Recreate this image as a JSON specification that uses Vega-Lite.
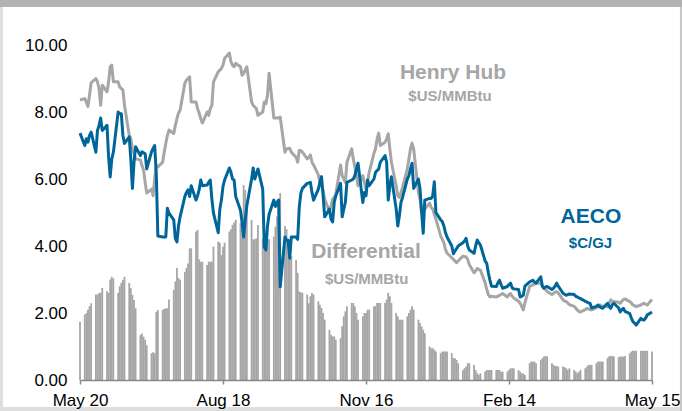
{
"$schema":"https://vega.github.io/schema/vega-lite/v6.json",
"width":572,"height":335,
"autosize":{"type":"none"},
"padding":{"left":80,"top":45,"right":30,"bottom":31},
"background":"#ffffff",
"config":{"view":{"fill":null,"stroke":null},"font":"Liberation Sans","text":{"font":"Liberation Sans"},"scale":{"continuousPadding":0},
 "axis":{"grid":false,"title":null,"labelFontSize":17,"labelColor":"#000000","labelFont":"Liberation Sans"},
 "axisX":{"domain":true,"domainColor":"#888888","domainWidth":1.5,"ticks":true,"tickSize":4,"tickWidth":1.5,"tickColor":"#888888","labelPadding":8,"labelFlush":false,"labelOverlap":false},
 "axisY":{"domain":false,"ticks":false,"labelPadding":13}},
"data":{"values":[
{"date":"2022-05-20","hh":8.36,"aeco":7.37,"diff":1.74},
{"date":"2022-05-23","hh":8.4,"aeco":7.0,"diff":1.95},
{"date":"2022-05-24","hh":8.3,"aeco":7.2,"diff":2.0},
{"date":"2022-05-25","hh":8.16,"aeco":7.1,"diff":2.1},
{"date":"2022-05-26","hh":8.5,"aeco":7.3,"diff":2.2},
{"date":"2022-05-27","hh":8.87,"aeco":7.4,"diff":2.29},
{"date":"2022-05-30","hh":9.0,"aeco":6.8,"diff":2.55},
{"date":"2022-05-31","hh":8.9,"aeco":7.45,"diff":2.55},
{"date":"2022-06-01","hh":8.7,"aeco":7.6,"diff":2.6},
{"date":"2022-06-02","hh":8.2,"aeco":7.82,"diff":2.6},
{"date":"2022-06-03","hh":8.8,"aeco":7.45,"diff":2.75},
{"date":"2022-06-06","hh":8.6,"aeco":7.6,"diff":2.65},
{"date":"2022-06-07","hh":8.9,"aeco":6.66,"diff":2.6},
{"date":"2022-06-08","hh":9.35,"aeco":6.06,"diff":3.0},
{"date":"2022-06-09","hh":9.4,"aeco":6.6,"diff":3.08},
{"date":"2022-06-10","hh":8.9,"aeco":6.8,"diff":3.03},
{"date":"2022-06-13","hh":8.9,"aeco":8.0,"diff":2.6},
{"date":"2022-06-14","hh":8.75,"aeco":7.95,"diff":2.8},
{"date":"2022-06-15","hh":8.7,"aeco":7.95,"diff":2.9},
{"date":"2022-06-16","hh":8.66,"aeco":7.3,"diff":2.99},
{"date":"2022-06-17","hh":8.2,"aeco":7.06,"diff":3.08},
{"date":"2022-06-20","hh":7.3,"aeco":7.26,"diff":2.9},
{"date":"2022-06-21","hh":7.2,"aeco":6.57,"diff":2.74},
{"date":"2022-06-22","hh":6.9,"aeco":5.72,"diff":2.54},
{"date":"2022-06-23","hh":6.75,"aeco":6.5,"diff":2.39},
{"date":"2022-06-24","hh":6.6,"aeco":6.96,"diff":2.14},
{"date":"2022-06-27","hh":6.57,"aeco":6.7,"diff":1.34},
{"date":"2022-06-28","hh":6.4,"aeco":6.81,"diff":1.39},
{"date":"2022-06-29","hh":6.27,"aeco":6.78,"diff":1.29},
{"date":"2022-06-30","hh":5.9,"aeco":6.76,"diff":1.2},
{"date":"2022-07-01","hh":5.58,"aeco":6.3,"diff":1.04},
{"date":"2022-07-04","hh":5.7,"aeco":6.81,"diff":0.8},
{"date":"2022-07-05","hh":5.5,"aeco":6.91,"diff":0.83},
{"date":"2022-07-06","hh":6.0,"aeco":7.0,"diff":0.8},
{"date":"2022-07-07","hh":6.4,"aeco":6.17,"diff":2.03},
{"date":"2022-07-08","hh":6.36,"aeco":4.3,"diff":2.09},
{"date":"2022-07-11","hh":6.5,"aeco":4.27,"diff":2.09},
{"date":"2022-07-12","hh":6.8,"aeco":4.27,"diff":2.12},
{"date":"2022-07-13","hh":7.07,"aeco":4.27,"diff":2.14},
{"date":"2022-07-14","hh":7.3,"aeco":5.13,"diff":2.14},
{"date":"2022-07-15","hh":7.46,"aeco":4.98,"diff":2.4},
{"date":"2022-07-18","hh":7.36,"aeco":4.78,"diff":2.69},
{"date":"2022-07-19","hh":7.6,"aeco":4.23,"diff":2.94},
{"date":"2022-07-20","hh":7.8,"aeco":4.12,"diff":3.34},
{"date":"2022-07-21","hh":7.97,"aeco":4.6,"diff":3.04},
{"date":"2022-07-22","hh":8.05,"aeco":4.87,"diff":2.99},
{"date":"2022-07-25","hh":8.86,"aeco":5.48,"diff":3.23},
{"date":"2022-07-26","hh":8.95,"aeco":5.6,"diff":3.35},
{"date":"2022-07-27","hh":9.0,"aeco":5.68,"diff":3.48},
{"date":"2022-07-28","hh":9.05,"aeco":5.48,"diff":3.93},
{"date":"2022-07-29","hh":8.3,"aeco":5.8,"diff":3.93},
{"date":"2022-08-01","hh":8.3,"aeco":5.37,"diff":4.43},
{"date":"2022-08-02","hh":8.1,"aeco":5.5,"diff":4.48},
{"date":"2022-08-03","hh":7.97,"aeco":5.68,"diff":3.6},
{"date":"2022-08-04","hh":7.8,"aeco":5.97,"diff":3.53},
{"date":"2022-08-05","hh":7.67,"aeco":5.8,"diff":3.53},
{"date":"2022-08-08","hh":8.0,"aeco":5.82,"diff":3.43},
{"date":"2022-08-09","hh":7.9,"aeco":5.9,"diff":3.53},
{"date":"2022-08-10","hh":8.1,"aeco":5.97,"diff":3.53},
{"date":"2022-08-11","hh":8.2,"aeco":5.4,"diff":3.53},
{"date":"2022-08-12","hh":8.9,"aeco":4.98,"diff":3.98},
{"date":"2022-08-15","hh":9.2,"aeco":4.4,"diff":4.13},
{"date":"2022-08-16","hh":9.25,"aeco":5.1,"diff":4.1},
{"date":"2022-08-17","hh":9.3,"aeco":5.37,"diff":3.73},
{"date":"2022-08-18","hh":9.4,"aeco":5.78,"diff":3.98},
{"date":"2022-08-19","hh":9.6,"aeco":5.97,"diff":4.1},
{"date":"2022-08-22","hh":9.76,"aeco":6.33,"diff":4.43},
{"date":"2022-08-23","hh":9.5,"aeco":6.2,"diff":4.5},
{"date":"2022-08-24","hh":9.4,"aeco":6.0,"diff":4.63},
{"date":"2022-08-25","hh":9.35,"aeco":5.97,"diff":4.7},
{"date":"2022-08-26","hh":9.45,"aeco":5.48,"diff":4.78},
{"date":"2022-08-29","hh":9.35,"aeco":5.07,"diff":4.68},
{"date":"2022-08-30","hh":9.1,"aeco":4.7,"diff":4.93},
{"date":"2022-08-31","hh":9.15,"aeco":4.27,"diff":5.82},
{"date":"2022-09-01","hh":9.25,"aeco":4.78,"diff":5.67},
{"date":"2022-09-02","hh":9.35,"aeco":5.2,"diff":5.37},
{"date":"2022-09-05","hh":8.3,"aeco":6.0,"diff":4.78},
{"date":"2022-09-06","hh":8.2,"aeco":6.33,"diff":4.2},
{"date":"2022-09-07","hh":8.15,"aeco":6.0,"diff":4.2},
{"date":"2022-09-08","hh":8.1,"aeco":6.15,"diff":4.23},
{"date":"2022-09-09","hh":7.9,"aeco":6.3,"diff":4.63},
{"date":"2022-09-12","hh":8.0,"aeco":5.7,"diff":4.23},
{"date":"2022-09-13","hh":8.3,"aeco":3.97,"diff":4.25},
{"date":"2022-09-14","hh":8.25,"aeco":3.88,"diff":4.28},
{"date":"2022-09-15","hh":8.5,"aeco":4.6,"diff":4.18},
{"date":"2022-09-16","hh":9.16,"aeco":4.95,"diff":4.2},
{"date":"2022-09-19","hh":7.82,"aeco":5.37,"diff":4.28},
{"date":"2022-09-20","hh":7.82,"aeco":5.18,"diff":4.58},
{"date":"2022-09-21","hh":7.82,"aeco":5.3,"diff":4.88},
{"date":"2022-09-22","hh":7.82,"aeco":5.37,"diff":4.9},
{"date":"2022-09-23","hh":7.85,"aeco":2.78,"diff":5.58},
{"date":"2022-09-26","hh":6.8,"aeco":4.27,"diff":4.6},
{"date":"2022-09-27","hh":6.9,"aeco":4.17,"diff":4.5},
{"date":"2022-09-28","hh":6.9,"aeco":4.17,"diff":4.2},
{"date":"2022-09-29","hh":6.92,"aeco":3.64,"diff":3.98},
{"date":"2022-09-30","hh":6.8,"aeco":4.27,"diff":3.7},
{"date":"2022-10-03","hh":6.65,"aeco":4.27,"diff":3.58},
{"date":"2022-10-04","hh":6.5,"aeco":4.2,"diff":3.2},
{"date":"2022-10-05","hh":6.85,"aeco":5.16,"diff":2.64},
{"date":"2022-10-06","hh":6.85,"aeco":5.58,"diff":2.62},
{"date":"2022-10-07","hh":6.8,"aeco":5.72,"diff":2.6},
{"date":"2022-10-10","hh":6.6,"aeco":5.87,"diff":2.55},
{"date":"2022-10-11","hh":6.65,"aeco":5.88,"diff":2.29},
{"date":"2022-10-12","hh":6.72,"aeco":5.9,"diff":2.5},
{"date":"2022-10-13","hh":6.5,"aeco":5.6,"diff":2.6},
{"date":"2022-10-14","hh":6.42,"aeco":5.37,"diff":2.55},
{"date":"2022-10-17","hh":6.12,"aeco":5.7,"diff":2.35},
{"date":"2022-10-18","hh":5.9,"aeco":5.9,"diff":2.25},
{"date":"2022-10-19","hh":5.8,"aeco":6.07,"diff":2.15},
{"date":"2022-10-20","hh":5.67,"aeco":5.5,"diff":2.0},
{"date":"2022-10-21","hh":5.4,"aeco":4.87,"diff":1.8},
{"date":"2022-10-24","hh":5.02,"aeco":5.1,"diff":1.5},
{"date":"2022-10-25","hh":5.2,"aeco":4.8,"diff":1.35},
{"date":"2022-10-26","hh":5.4,"aeco":4.72,"diff":1.3},
{"date":"2022-10-27","hh":5.45,"aeco":5.3,"diff":1.3},
{"date":"2022-10-28","hh":5.55,"aeco":5.5,"diff":1.2},
{"date":"2022-10-31","hh":6.42,"aeco":5.87,"diff":1.25},
{"date":"2022-11-01","hh":6.1,"aeco":4.87,"diff":1.6},
{"date":"2022-11-02","hh":6.0,"aeco":5.1,"diff":1.9},
{"date":"2022-11-03","hh":5.9,"aeco":5.3,"diff":2.05},
{"date":"2022-11-04","hh":6.5,"aeco":5.9,"diff":2.2},
{"date":"2022-11-07","hh":6.9,"aeco":5.97,"diff":2.3},
{"date":"2022-11-08","hh":6.6,"aeco":6.0,"diff":2.3},
{"date":"2022-11-09","hh":6.37,"aeco":6.1,"diff":2.2},
{"date":"2022-11-10","hh":6.1,"aeco":6.3,"diff":2.0},
{"date":"2022-11-11","hh":5.8,"aeco":6.47,"diff":1.8},
{"date":"2022-11-14","hh":6.1,"aeco":5.3,"diff":1.9},
{"date":"2022-11-15","hh":5.9,"aeco":5.6,"diff":2.0},
{"date":"2022-11-16","hh":5.7,"aeco":5.5,"diff":2.0},
{"date":"2022-11-17","hh":5.9,"aeco":5.97,"diff":2.1},
{"date":"2022-11-18","hh":6.2,"aeco":5.8,"diff":2.1},
{"date":"2022-11-21","hh":6.77,"aeco":6.0,"diff":2.2},
{"date":"2022-11-22","hh":6.9,"aeco":6.2,"diff":2.2},
{"date":"2022-11-23","hh":7.2,"aeco":6.25,"diff":2.3},
{"date":"2022-11-24","hh":7.37,"aeco":6.3,"diff":2.3},
{"date":"2022-11-25","hh":7.0,"aeco":6.5,"diff":2.3},
{"date":"2022-11-28","hh":7.1,"aeco":6.7,"diff":2.3},
{"date":"2022-11-29","hh":7.2,"aeco":6.5,"diff":2.4},
{"date":"2022-11-30","hh":7.35,"aeco":5.37,"diff":2.6},
{"date":"2022-12-01","hh":6.9,"aeco":5.8,"diff":2.5},
{"date":"2022-12-02","hh":6.5,"aeco":6.07,"diff":2.3},
{"date":"2022-12-05","hh":5.8,"aeco":5.1,"diff":2.0},
{"date":"2022-12-06","hh":5.5,"aeco":4.6,"diff":1.9},
{"date":"2022-12-07","hh":5.45,"aeco":4.9,"diff":1.8},
{"date":"2022-12-08","hh":5.6,"aeco":5.3,"diff":1.8},
{"date":"2022-12-09","hh":5.75,"aeco":5.45,"diff":1.8},
{"date":"2022-12-12","hh":6.3,"aeco":6.0,"diff":1.9},
{"date":"2022-12-13","hh":6.6,"aeco":6.1,"diff":2.0},
{"date":"2022-12-14","hh":6.9,"aeco":6.3,"diff":2.1},
{"date":"2022-12-15","hh":7.07,"aeco":6.47,"diff":2.2},
{"date":"2022-12-16","hh":6.9,"aeco":5.72,"diff":2.1},
{"date":"2022-12-19","hh":5.6,"aeco":6.0,"diff":1.8},
{"date":"2022-12-20","hh":5.4,"aeco":5.72,"diff":1.7},
{"date":"2022-12-21","hh":5.0,"aeco":5.0,"diff":1.6},
{"date":"2022-12-22","hh":5.0,"aeco":4.38,"diff":1.5},
{"date":"2022-12-23","hh":5.1,"aeco":5.37,"diff":1.4},
{"date":"2022-12-26","hh":5.28,"aeco":5.42,"diff":1.0},
{"date":"2022-12-27","hh":5.15,"aeco":5.42,"diff":0.95},
{"date":"2022-12-28","hh":5.1,"aeco":5.5,"diff":0.95},
{"date":"2022-12-29","hh":4.95,"aeco":5.92,"diff":0.9},
{"date":"2022-12-30","hh":4.8,"aeco":5.0,"diff":0.85},
{"date":"2023-01-02","hh":4.3,"aeco":4.78,"diff":0.8},
{"date":"2023-01-03","hh":4.2,"aeco":4.73,"diff":0.85},
{"date":"2023-01-04","hh":4.1,"aeco":4.6,"diff":0.85},
{"date":"2023-01-05","hh":3.9,"aeco":4.4,"diff":0.85},
{"date":"2023-01-06","hh":3.79,"aeco":4.27,"diff":0.85},
{"date":"2023-01-09","hh":3.65,"aeco":4.0,"diff":0.8},
{"date":"2023-01-10","hh":3.6,"aeco":3.77,"diff":0.65},
{"date":"2023-01-11","hh":3.55,"aeco":3.85,"diff":0.65},
{"date":"2023-01-12","hh":3.5,"aeco":3.92,"diff":0.6},
{"date":"2023-01-13","hh":3.55,"aeco":4.0,"diff":0.5},
{"date":"2023-01-16","hh":3.7,"aeco":4.1,"diff":0.3},
{"date":"2023-01-17","hh":3.68,"aeco":4.15,"diff":0.35},
{"date":"2023-01-18","hh":3.68,"aeco":4.23,"diff":0.4},
{"date":"2023-01-19","hh":3.6,"aeco":4.0,"diff":0.5},
{"date":"2023-01-20","hh":3.45,"aeco":3.88,"diff":0.5},
{"date":"2023-01-23","hh":3.2,"aeco":3.78,"diff":0.45},
{"date":"2023-01-24","hh":3.25,"aeco":4.0,"diff":0.3},
{"date":"2023-01-25","hh":3.33,"aeco":4.18,"diff":0.2},
{"date":"2023-01-26","hh":3.3,"aeco":4.1,"diff":0.15},
{"date":"2023-01-27","hh":3.28,"aeco":4.03,"diff":0.2},
{"date":"2023-01-30","hh":2.9,"aeco":3.55,"diff":0.25},
{"date":"2023-01-31","hh":2.7,"aeco":3.48,"diff":0.3},
{"date":"2023-02-01","hh":2.55,"aeco":3.2,"diff":0.3},
{"date":"2023-02-02","hh":2.48,"aeco":2.98,"diff":0.3},
{"date":"2023-02-03","hh":2.5,"aeco":2.8,"diff":0.3},
{"date":"2023-02-06","hh":2.48,"aeco":2.79,"diff":0.3},
{"date":"2023-02-07","hh":2.5,"aeco":2.9,"diff":0.3},
{"date":"2023-02-08","hh":2.53,"aeco":2.98,"diff":0.3},
{"date":"2023-02-09","hh":2.55,"aeco":2.85,"diff":0.25},
{"date":"2023-02-10","hh":2.58,"aeco":2.74,"diff":0.25},
{"date":"2023-02-13","hh":2.48,"aeco":2.79,"diff":0.25},
{"date":"2023-02-14","hh":2.55,"aeco":2.85,"diff":0.3},
{"date":"2023-02-15","hh":2.58,"aeco":2.89,"diff":0.35},
{"date":"2023-02-16","hh":2.5,"aeco":2.75,"diff":0.35},
{"date":"2023-02-17","hh":2.45,"aeco":2.72,"diff":0.35},
{"date":"2023-02-20","hh":2.35,"aeco":2.7,"diff":0.3},
{"date":"2023-02-21","hh":2.29,"aeco":2.48,"diff":0.25},
{"date":"2023-02-22","hh":2.2,"aeco":2.5,"diff":0.2},
{"date":"2023-02-23","hh":2.09,"aeco":2.53,"diff":0.2},
{"date":"2023-02-24","hh":2.3,"aeco":2.8,"diff":0.15},
{"date":"2023-02-27","hh":2.79,"aeco":2.93,"diff":0.5},
{"date":"2023-02-28","hh":2.82,"aeco":2.95,"diff":0.55},
{"date":"2023-03-01","hh":2.84,"aeco":2.98,"diff":0.55},
{"date":"2023-03-02","hh":2.86,"aeco":2.93,"diff":0.55},
{"date":"2023-03-03","hh":2.89,"aeco":2.89,"diff":0.5},
{"date":"2023-03-06","hh":2.89,"aeco":3.08,"diff":0.6},
{"date":"2023-03-07","hh":2.8,"aeco":2.8,"diff":0.65},
{"date":"2023-03-08","hh":2.75,"aeco":2.74,"diff":0.7},
{"date":"2023-03-09","hh":2.7,"aeco":2.78,"diff":0.72},
{"date":"2023-03-10","hh":2.64,"aeco":2.79,"diff":0.7},
{"date":"2023-03-13","hh":2.55,"aeco":2.7,"diff":0.5},
{"date":"2023-03-14","hh":2.59,"aeco":2.74,"diff":0.45},
{"date":"2023-03-15","hh":2.62,"aeco":2.8,"diff":0.42},
{"date":"2023-03-16","hh":2.64,"aeco":2.89,"diff":0.42},
{"date":"2023-03-17","hh":2.6,"aeco":2.8,"diff":0.4},
{"date":"2023-03-20","hh":2.39,"aeco":2.59,"diff":0.4},
{"date":"2023-03-21","hh":2.36,"aeco":2.56,"diff":0.38},
{"date":"2023-03-22","hh":2.34,"aeco":2.53,"diff":0.35},
{"date":"2023-03-23","hh":2.3,"aeco":2.55,"diff":0.3},
{"date":"2023-03-24","hh":2.25,"aeco":2.57,"diff":0.35},
{"date":"2023-03-27","hh":2.2,"aeco":2.55,"diff":0.3},
{"date":"2023-03-28","hh":2.15,"aeco":2.5,"diff":0.25},
{"date":"2023-03-29","hh":2.09,"aeco":2.48,"diff":0.2},
{"date":"2023-03-30","hh":2.05,"aeco":2.45,"diff":0.25},
{"date":"2023-03-31","hh":2.03,"aeco":2.43,"diff":0.3},
{"date":"2023-04-03","hh":2.1,"aeco":2.35,"diff":0.35},
{"date":"2023-04-04","hh":2.14,"aeco":2.33,"diff":0.4},
{"date":"2023-04-05","hh":2.12,"aeco":2.3,"diff":0.45},
{"date":"2023-04-06","hh":2.1,"aeco":2.29,"diff":0.45},
{"date":"2023-04-07","hh":2.09,"aeco":2.15,"diff":0.45},
{"date":"2023-04-10","hh":2.15,"aeco":2.2,"diff":0.5},
{"date":"2023-04-11","hh":2.2,"aeco":2.24,"diff":0.55},
{"date":"2023-04-12","hh":2.24,"aeco":2.19,"diff":0.55},
{"date":"2023-04-13","hh":2.22,"aeco":2.16,"diff":0.55},
{"date":"2023-04-14","hh":2.2,"aeco":2.14,"diff":0.55},
{"date":"2023-04-17","hh":2.19,"aeco":2.29,"diff":0.65},
{"date":"2023-04-18","hh":2.3,"aeco":2.2,"diff":0.7},
{"date":"2023-04-19","hh":2.39,"aeco":2.14,"diff":0.72},
{"date":"2023-04-20","hh":2.35,"aeco":2.25,"diff":0.72},
{"date":"2023-04-21","hh":2.34,"aeco":2.29,"diff":0.7},
{"date":"2023-04-24","hh":2.32,"aeco":2.15,"diff":0.68},
{"date":"2023-04-25","hh":2.29,"aeco":2.03,"diff":0.7},
{"date":"2023-04-26","hh":2.35,"aeco":2.1,"diff":0.7},
{"date":"2023-04-27","hh":2.4,"aeco":2.14,"diff":0.7},
{"date":"2023-04-28","hh":2.42,"aeco":2.05,"diff":0.72},
{"date":"2023-05-01","hh":2.34,"aeco":1.98,"diff":0.8},
{"date":"2023-05-02","hh":2.3,"aeco":1.85,"diff":0.85},
{"date":"2023-05-03","hh":2.24,"aeco":1.74,"diff":0.87},
{"date":"2023-05-04","hh":2.22,"aeco":1.7,"diff":0.87},
{"date":"2023-05-05","hh":2.19,"aeco":1.64,"diff":0.87},
{"date":"2023-05-08","hh":2.24,"aeco":1.84,"diff":0.87},
{"date":"2023-05-09","hh":2.27,"aeco":1.8,"diff":0.87},
{"date":"2023-05-10","hh":2.29,"aeco":1.79,"diff":0.87},
{"date":"2023-05-11","hh":2.26,"aeco":1.85,"diff":0.87},
{"date":"2023-05-12","hh":2.24,"aeco":1.94,"diff":0.87},
{"date":"2023-05-15","hh":2.4,"aeco":2.03,"diff":0.85}
]},
"layer":[
{"data":{"values":[{}]},
 "mark":{"type":"rect","color":"#dedede"},
 "encoding":{
  "x":{"datum":{"year":2022,"month":3,"date":1,"utc":true},"type":"temporal","title":null,"scale":{"type":"utc","padding":0,"domain":[{"year":2022,"month":5,"date":20,"utc":true},{"year":2023,"month":5,"date":15,"utc":true}]}},
  "x2":{"datum":{"year":2022,"month":4,"date":1,"hours":13,"utc":true}},
  "y":{"datum":12,"type":"quantitative","title":null,"scale":{"domain":[0,10],"padding":0,"nice":false,"zero":false}},
  "y2":{"datum":-2}}},
{"data":{"values":[{}]},
 "mark":{"type":"rect","color":"#dedede"},
 "encoding":{
  "x":{"datum":{"year":2022,"month":3,"date":1,"utc":true},"type":"temporal","title":null,"scale":{"type":"utc","padding":0,"domain":[{"year":2022,"month":5,"date":20,"utc":true},{"year":2023,"month":5,"date":15,"utc":true}]}},
  "x2":{"datum":{"year":2023,"month":7,"date":1,"utc":true}},
  "y":{"datum":-0.806,"type":"quantitative","title":null,"scale":{"domain":[0,10],"padding":0,"nice":false,"zero":false}},
  "y2":{"datum":-2}}},
{"data":{"values":[{}]},
 "mark":{"type":"rect","color":"#c8c8c8"},
 "encoding":{
  "x":{"datum":{"year":2023,"month":6,"date":1,"hours":14,"utc":true},"type":"temporal","title":null,"scale":{"type":"utc","padding":0,"domain":[{"year":2022,"month":5,"date":20,"utc":true},{"year":2023,"month":5,"date":15,"utc":true}]}},
  "x2":{"datum":{"year":2023,"month":7,"date":1,"utc":true}},
  "y":{"datum":12,"type":"quantitative","title":null,"scale":{"domain":[0,10],"padding":0,"nice":false,"zero":false}},
  "y2":{"datum":-2}}},
{"data":{"values":[{}]},
 "mark":{"type":"rect","color":"#b2b2b2"},
 "encoding":{
  "x":{"datum":{"year":2022,"month":3,"date":1,"utc":true},"type":"temporal","title":null,"scale":{"type":"utc","padding":0,"domain":[{"year":2022,"month":5,"date":20,"utc":true},{"year":2023,"month":5,"date":15,"utc":true}]}},
  "x2":{"datum":{"year":2023,"month":7,"date":1,"utc":true}},
  "y":{"datum":12,"type":"quantitative","title":null,"scale":{"domain":[0,10],"padding":0,"nice":false,"zero":false}},
  "y2":{"datum":11.134}}},
{"mark":{"type":"bar","color":"#a6a6a6","width":1.8},
 "encoding":{
  "x":{"field":"date","type":"temporal","title":null,"scale":{"type":"utc","padding":0,"domain":[{"year":2022,"month":5,"date":20,"utc":true},{"year":2023,"month":5,"date":15,"utc":true}]},
   "axis":{"values":[{"year":2022,"month":5,"date":20,"utc":true},{"year":2022,"month":8,"date":18,"utc":true},{"year":2022,"month":11,"date":16,"utc":true},{"year":2023,"month":2,"date":14,"utc":true},{"year":2023,"month":5,"date":15,"utc":true}],"format":"%b %d","zindex":1}},
  "y":{"field":"diff","type":"quantitative","title":null,"scale":{"domain":[0,10],"padding":0,"nice":false,"zero":false},
   "axis":{"values":[0,2,4,6,8,10],"format":".2f","zindex":1}}}},
{"mark":{"type":"line","color":"#a6a6a6","strokeWidth":3,"strokeJoin":"round"},
 "encoding":{
  "x":{"field":"date","type":"temporal","title":null,"scale":{"type":"utc","padding":0,"domain":[{"year":2022,"month":5,"date":20,"utc":true},{"year":2023,"month":5,"date":15,"utc":true}]}},
  "y":{"field":"hh","type":"quantitative","title":null,"scale":{"domain":[0,10],"padding":0,"nice":false,"zero":false}}}},
{"mark":{"type":"line","color":"#00669a","strokeWidth":3,"strokeJoin":"round"},
 "encoding":{
  "x":{"field":"date","type":"temporal","title":null,"scale":{"type":"utc","padding":0,"domain":[{"year":2022,"month":5,"date":20,"utc":true},{"year":2023,"month":5,"date":15,"utc":true}]}},
  "y":{"field":"aeco","type":"quantitative","title":null,"scale":{"domain":[0,10],"padding":0,"nice":false,"zero":false}}}},
{"data":{"values":[{}]},
 "mark":{"type":"text","text":"Henry Hub","fontSize":21,"fontWeight":"bold","color":"#a6a6a6","align":"center","baseline":"middle"},
 "encoding":{
  "x":{"datum":{"year":2023,"month":1,"date":9,"hours":18,"utc":true},"type":"temporal","title":null,"scale":{"type":"utc","padding":0,"domain":[{"year":2022,"month":5,"date":20,"utc":true},{"year":2023,"month":5,"date":15,"utc":true}]}},
  "y":{"datum":9.16,"type":"quantitative","title":null,"scale":{"domain":[0,10],"padding":0,"nice":false,"zero":false}}}},
{"data":{"values":[{}]},
 "mark":{"type":"text","text":"$US/MMBtu","fontSize":15,"fontWeight":"bold","color":"#a6a6a6","align":"center","baseline":"middle"},
 "encoding":{
  "x":{"datum":{"year":2023,"month":1,"date":7,"hours":21,"utc":true},"type":"temporal","title":null,"scale":{"type":"utc","padding":0,"domain":[{"year":2022,"month":5,"date":20,"utc":true},{"year":2023,"month":5,"date":15,"utc":true}]}},
  "y":{"datum":8.48,"type":"quantitative","title":null,"scale":{"domain":[0,10],"padding":0,"nice":false,"zero":false}}}},
{"data":{"values":[{}]},
 "mark":{"type":"text","text":"Differential","fontSize":21,"fontWeight":"bold","color":"#a6a6a6","align":"center","baseline":"middle"},
 "encoding":{
  "x":{"datum":{"year":2022,"month":11,"date":16,"utc":true},"type":"temporal","title":null,"scale":{"type":"utc","padding":0,"domain":[{"year":2022,"month":5,"date":20,"utc":true},{"year":2023,"month":5,"date":15,"utc":true}]}},
  "y":{"datum":3.82,"type":"quantitative","title":null,"scale":{"domain":[0,10],"padding":0,"nice":false,"zero":false}}}},
{"data":{"values":[{}]},
 "mark":{"type":"text","text":"$US/MMBtu","fontSize":15,"fontWeight":"bold","color":"#a6a6a6","align":"center","baseline":"middle"},
 "encoding":{
  "x":{"datum":{"year":2022,"month":11,"date":16,"hours":10,"utc":true},"type":"temporal","title":null,"scale":{"type":"utc","padding":0,"domain":[{"year":2022,"month":5,"date":20,"utc":true},{"year":2023,"month":5,"date":15,"utc":true}]}},
  "y":{"datum":3.01,"type":"quantitative","title":null,"scale":{"domain":[0,10],"padding":0,"nice":false,"zero":false}}}},
{"data":{"values":[{}]},
 "mark":{"type":"text","text":"AECO","fontSize":21,"fontWeight":"bold","color":"#00669a","align":"center","baseline":"middle"},
 "encoding":{
  "x":{"datum":{"year":2023,"month":4,"date":6,"hours":14,"utc":true},"type":"temporal","title":null,"scale":{"type":"utc","padding":0,"domain":[{"year":2022,"month":5,"date":20,"utc":true},{"year":2023,"month":5,"date":15,"utc":true}]}},
  "y":{"datum":4.88,"type":"quantitative","title":null,"scale":{"domain":[0,10],"padding":0,"nice":false,"zero":false}}}},
{"data":{"values":[{}]},
 "mark":{"type":"text","text":"$C/GJ","fontSize":15,"fontWeight":"bold","color":"#00669a","align":"center","baseline":"middle"},
 "encoding":{
  "x":{"datum":{"year":2023,"month":4,"date":6,"hours":7,"utc":true},"type":"temporal","title":null,"scale":{"type":"utc","padding":0,"domain":[{"year":2022,"month":5,"date":20,"utc":true},{"year":2023,"month":5,"date":15,"utc":true}]}},
  "y":{"datum":4.09,"type":"quantitative","title":null,"scale":{"domain":[0,10],"padding":0,"nice":false,"zero":false}}}}
]
}
